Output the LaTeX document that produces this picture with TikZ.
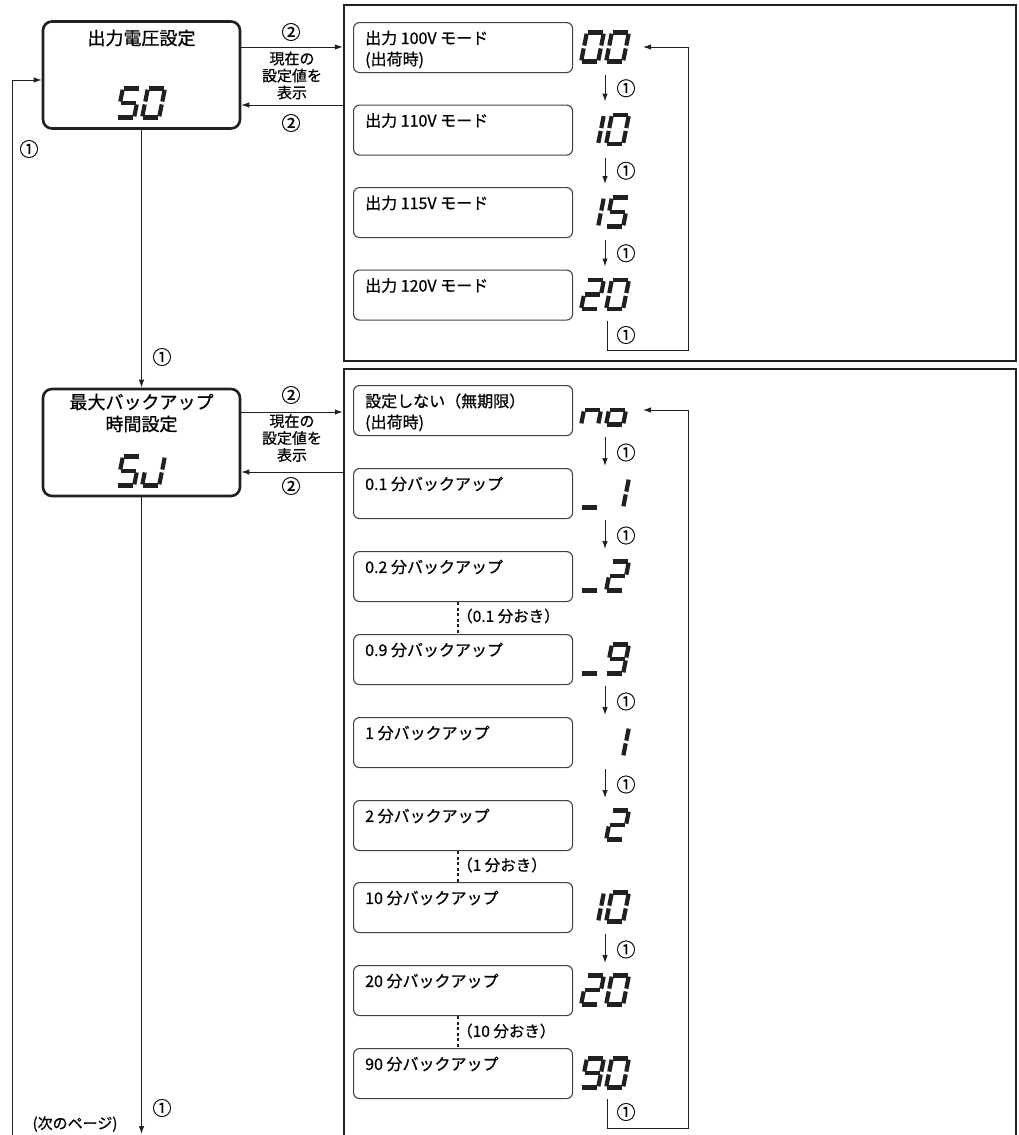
\documentclass[tikz,border=0pt]{standalone}
\usepackage{fontspec}
\setmainfont{Noto Sans CJK JP}[FakeBold=0.7]
\usetikzlibrary{arrows.meta,calc}
\definecolor{ink}{RGB}{35,31,32}
\tikzset{
  arr/.style={draw=ink, line width=1pt, -{Latex[length=8pt,width=5.5pt]}},
  conn/.style={draw=ink, line width=1pt},
  dashconn/.style={draw=ink, line width=1.6pt, dash pattern=on 3pt off 2.5pt},
  leftbox/.style={draw=ink, line width=2.6pt, rounded corners=9pt, minimum width=197pt, minimum height=107pt, inner sep=0pt},
  modebox/.style={draw=ink!85, line width=1.1pt, rounded corners=6pt, minimum width=219pt, minimum height=50pt, inner sep=0pt},
  panel/.style={draw=ink, line width=2.4pt, minimum width=672pt, inner sep=0pt},
  seg/.style={draw=ink, line width=4.2pt},
  mtext/.style={font=\fontsize{16}{18}\selectfont, anchor=west, inner sep=0pt},
  ttext/.style={font=\fontsize{18}{22}\selectfont, align=center, inner sep=0pt},
  stext/.style={font=\fontsize{15}{17}\selectfont, align=center, inner sep=0pt},
  circ/.style={font=\fontsize{19}{19}\selectfont, inner sep=0pt},
  note/.style={font=\fontsize{15.5}{17}\selectfont, anchor=west, inner sep=0pt}
}
\newcommand\sgA{\draw[seg] (-7.8,14.5)--(7.8,14.5);}
\newcommand\sgB{\draw[seg] (8.5,13.4)--(8.5,1.4);}
\newcommand\sgC{\draw[seg] (8.5,-1.4)--(8.5,-13.4);}
\newcommand\sgD{\draw[seg] (-7.8,-14.5)--(7.8,-14.5);}
\newcommand\sgE{\draw[seg] (-8.5,-1.4)--(-8.5,-13.4);}
\newcommand\sgF{\draw[seg] (-8.5,13.4)--(-8.5,1.4);}
\newcommand\sgG{\draw[seg] (-7.2,0)--(7.2,0);}
\newcommand\dZ{\sgA\sgB\sgC\sgD\sgE\sgF}
\newcommand\dOne{\sgB\sgC}
\newcommand\dTwo{\sgA\sgB\sgG\sgE\sgD}
\newcommand\dFive{\sgA\sgF\sgG\sgC\sgD}
\newcommand\dNine{\sgA\sgB\sgC\sgD\sgF\sgG}
\newcommand\dLn{\sgE\sgG\sgC}
\newcommand\dLo{\sgE\sgG\sgC\sgD}
\newcommand\dJ{\sgB\sgC\sgD\sgE}
\newcommand\dU{\sgD}
\newcommand\lcd[3]{\begin{scope}[shift={(#1,#2)},x=1pt,y=1pt,xslant=0.2]#3\end{scope}}
\newcommand\disp[4]{\lcd{#1-12.5}{#2}{#3}\lcd{#1+12.5}{#2}{#4}}

\begin{document}
\begin{tikzpicture}[x=1pt,y=-1pt]
\useasboundingbox (0,0) rectangle (1018,1135);

% panels
\node[panel, minimum height=356pt] (P1) at (680,183) {};
\node[panel, minimum height=776pt] (P2) at (680,757) {};

% left boxes
\node[leftbox] (b1) at (141.5,75) {};
\node[ttext] at (141.5,38) {出力電圧設定};
\disp{141}{103}{\dFive}{\dZ}
\node[leftbox] (b2) at (141.5,442.5) {};
\node[ttext] at (141.5,413) {最大バックアップ\\時間設定};
\disp{141}{471}{\dFive}{\dJ}

% connections between left boxes and panels
\draw[arr] (b1.east |- 0,47) -- (P1.west |- 0,47);
\draw[arr] (P1.west |- 0,105) -- (b1.east |- 0,105);
\node[circ] at (291,32) {②};
\node[circ] at (291,123) {②};
\node[stext] at (292,75.5) {現在の\\設定値を\\表示};

\draw[arr] (b2.east |- 0,412) -- (P2.west |- 0,412);
\draw[arr] (P2.west |- 0,472) -- (b2.east |- 0,472);
\node[circ] at (291,395) {②};
\node[circ] at (291,486) {②};
\node[stext] at (292,438) {現在の\\設定値を\\表示};

% vertical flow on the left
\draw[arr] (b1.south) -- (b2.north);
\node[circ] at (162,357) {①};
\coordinate (next) at (141.5,1134);
\draw[arr] (b2.south) -- (next);
\node[circ] at (162,1108) {①};
\node[font=\fontsize{15}{17}\selectfont, inner sep=0pt] at (75,1124) {(次のページ)};
\coordinate (loop) at (12,1140);
\draw[arr] (loop) |- (b1.west |- 0,80);
\node[circ] at (29,149) {①};

% ---------- top panel ----------
\foreach \i/\t in {1/22,2/104.5,3/187,4/269.5}{
  \node[modebox, anchor=north west] (m\i) at (353,\t) {};
  \coordinate (dm\i) at (605,\t+25);
}
\node[mtext] at ($(m1.north west)+(12,16)$) {出力 100V モード};
\node[mtext] at ($(m1.north west)+(12,38)$) {(出荷時)};
\node[mtext] at ($(m2.north west)+(12,16)$) {出力 110V モード};
\node[mtext] at ($(m3.north west)+(12,16)$) {出力 115V モード};
\node[mtext] at ($(m4.north west)+(12,16)$) {出力 120V モード};
\disp{605}{47}{\dZ}{\dZ}
\disp{605}{129.5}{\dOne}{\dZ}
\disp{605}{212}{\dOne}{\dFive}
\disp{605}{294.5}{\dTwo}{\dZ}
\foreach \a/\b in {1/2,2/3,3/4}{
  \draw[arr] ($(dm\a)+(0,28)$) -- ($(dm\b)+(0,-28)$);
  \node[circ] at ($(dm\a)!0.5!(dm\b)+(21,0)$) {①};
}
\draw[arr] ($(dm4)+(2,26)$) |- (688,350) |- ($(dm1)+(38,0)$);
\node[circ] at (626,335) {①};

% ---------- bottom panel ----------
\foreach \i/\t in {1/385,2/468,3/551,4/634,5/717,6/800,7/882,8/965,9/1048}{
  \node[modebox, anchor=north west] (n\i) at (353,\t) {};
  \coordinate (dn\i) at (605,\t+25);
}
\node[mtext] at ($(n1.north west)+(12,16)$) {設定しない（無期限）};
\node[mtext] at ($(n1.north west)+(12,38)$) {(出荷時)};
\node[mtext] at ($(n2.north west)+(12,16)$) {0.1 分バックアップ};
\node[mtext] at ($(n3.north west)+(12,16)$) {0.2 分バックアップ};
\node[mtext] at ($(n4.north west)+(12,16)$) {0.9 分バックアップ};
\node[mtext] at ($(n5.north west)+(12,16)$) {1 分バックアップ};
\node[mtext] at ($(n6.north west)+(12,16)$) {2 分バックアップ};
\node[mtext] at ($(n7.north west)+(12,16)$) {10 分バックアップ};
\node[mtext] at ($(n8.north west)+(12,16)$) {20 分バックアップ};
\node[mtext] at ($(n9.north west)+(12,16)$) {90 分バックアップ};

\disp{605}{410}{\dLn}{\dLo}
\disp{605}{493}{\dU}{\dOne}
\disp{605}{576}{\dU}{\dTwo}
\disp{605}{659}{\dU}{\dNine}
\disp{605}{742}{}{\dOne}
\disp{605}{825}{}{\dTwo}
\disp{605}{907}{\dOne}{\dZ}
\disp{605}{990}{\dTwo}{\dZ}
\disp{605}{1073}{\dNine}{\dZ}

\foreach \a/\b in {1/2,2/3,4/5,5/6,7/8}{
  \draw[arr] ($(dn\a)+(0,27)$) -- ($(dn\b)+(0,-27)$);
  \node[circ] at ($(dn\a)!0.5!(dn\b)+(21,1)$) {①};
}
\draw[dashconn] (n3.south -| 458,0) -- (n4.north -| 458,0);
\node[note] at (457,616) {（0.1 分おき）};
\draw[dashconn] (n6.south -| 458,0) -- (n7.north -| 458,0);
\node[note] at (457,865) {（1 分おき）};
\draw[dashconn] (n8.south -| 458,0) -- (n9.north -| 458,0);
\node[note] at (457,1031) {（10 分おき）};

\draw[arr] ($(dn9)+(2,26)$) |- (688,1128) |- ($(dn1)+(38,0)$);
\node[circ] at (626,1112) {①};
\end{tikzpicture}
\end{document}
